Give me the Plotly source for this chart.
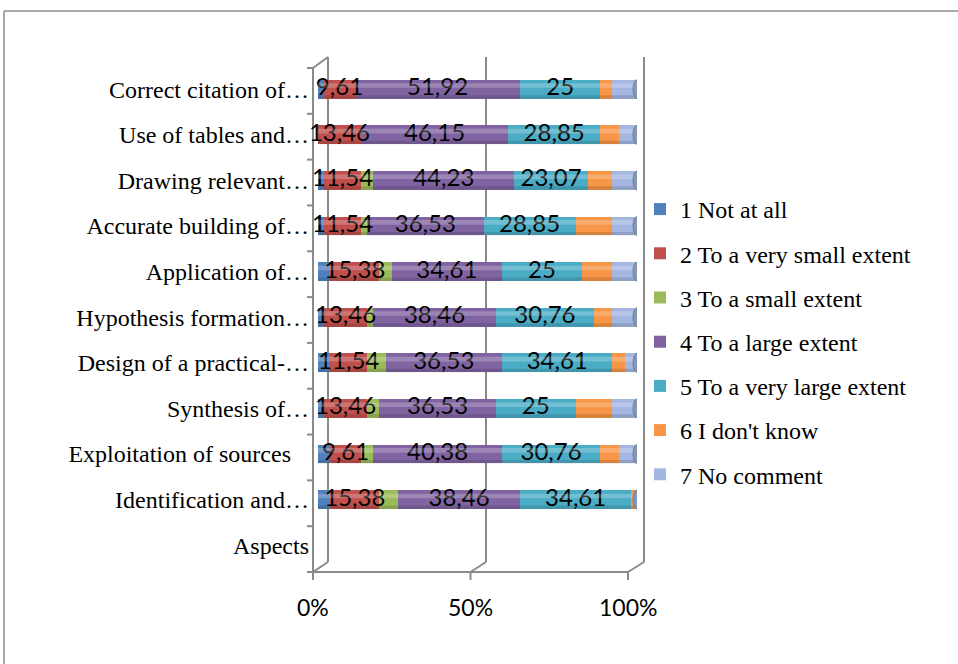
import plotly.graph_objects as go

# ---- data -------------------------------------------------------------
aspects = [
    "Aspects",
    "Identification and…",
    "Exploitation of sources\u00a0\u00a0\u00a0",
    "Synthesis of…",
    "Design of a practical-…",
    "Hypothesis formation…",
    "Application of…",
    "Accurate building of…",
    "Drawing relevant…",
    "Use of tables and…",
    "Correct citation of…",
]

series_names = [
    "1 Not at all",
    "2 To a very small extent",
    "3 To a small extent",
    "4 To a large extent",
    "5 To a very large extent",
    "6 I don't know",
    "7 No comment",
]

not_at_all       = [None, 3.85, 3.85, 1.92, 3.85, 1.92, 3.85, 1.92, 1.92, 0, 1.92]
very_small       = [None, 15.38, 9.61, 13.46, 11.54, 13.46, 15.38, 11.54, 11.54, 13.46, 9.61]
small            = [None, 5.77, 3.85, 3.85, 5.77, 1.92, 3.85, 1.92, 3.85, 0, 0]
large            = [None, 38.46, 40.38, 36.53, 36.53, 38.46, 34.61, 36.53, 44.23, 46.15, 51.92]
very_large       = [None, 34.61, 30.76, 25, 34.61, 30.76, 25, 28.85, 23.07, 28.85, 25]
dont_know        = [None, 1.92, 5.77, 11.54, 3.85, 5.77, 9.61, 11.54, 7.69, 5.77, 3.85]
no_comment       = [None, 0, 5.77, 7.69, 3.85, 7.69, 7.69, 7.69, 7.69, 5.77, 7.69]

series_values = [not_at_all, very_small, small, large, very_large, dont_know, no_comment]
labelled = [False, True, False, True, True, False, False]

x_ticks = [0, 50, 100]
x_tick_text = ["0%", "50%", "100%"]

colors = ["#4F81BD", "#C0504D", "#9BBB59", "#8064A2", "#4BACC6", "#F79646", "#A4B7E1"]

# ---- geometry of the plotting box (pixels) ----------------------------
W, H = 958, 664
PL, PR, PT, PB = 318, 637, 64, 568          # bar area
FRONT_L, FRONT_R, FRONT_Y = 313, 628, 572   # front floor edge
BACK_L, BACK_R, BACK_T, BACK_B = 328, 644, 57, 562  # back wall
WALL_TOP = 68


def px(x):
    return (x - PL) / (PR - PL)


def py(y):
    return (PB - y) / (PB - PT)


def fmt(v):
    if v is None:
        return ""
    if float(v).is_integer():
        return str(int(v))
    return f"{v:.2f}".replace(".", ",")


fig = go.Figure()

for name, vals, col in zip(series_names, series_values, colors):
    fig.add_trace(go.Bar(
        y=aspects,
        x=vals,
        name=name,
        orientation="h",
        marker=dict(color=col, line=dict(width=0)),
        textposition="none",
        legendgroup=name,
        hoverinfo="name+x",
    ))

# data labels centred on their stacked segments (drawn unclipped)
running = [0.0] * len(aspects)
lab_x, lab_y, lab_t = [], [], []
for vals, lab in zip(series_values, labelled):
    for i, v in enumerate(vals):
        if v is None:
            continue
        if lab:
            lab_x.append(running[i] + v / 2)
            lab_y.append(aspects[i])
            lab_t.append(fmt(v))
        running[i] += v

fig.add_trace(go.Scatter(
    x=lab_x, y=lab_y, text=lab_t, mode="text",
    textposition="middle center",
    textfont=dict(family="Lato", size=24, color="#000000"),
    showlegend=False, hoverinfo="skip", cliponaxis=False,
))

grey = "#8A8A8A"


def line(x0, y0, x1, y1, width=2, color=grey):
    fig.add_shape(type="line", xref="paper", yref="paper",
                  x0=px(x0), y0=py(y0), x1=px(x1), y1=py(y1),
                  line=dict(color=color, width=width), layer="below")


# outer chart border
line(4, 11, W + 5, 11, width=1.5, color="#8C8C8C")
line(4, 11, 4, H + 5, width=1.5, color="#8C8C8C")

# left wall with category ticks
line(FRONT_L, WALL_TOP, FRONT_L, FRONT_Y)
line(BACK_L, BACK_T, BACK_L, BACK_B)
line(FRONT_L, WALL_TOP, BACK_L, BACK_T)
n_cat = len(aspects)
band = (FRONT_Y - WALL_TOP) / n_cat
for k in range(n_cat + 1):
    yk = WALL_TOP + k * band
    line(FRONT_L - 6, yk, FRONT_L, yk)

# floor edge, back-wall gridlines and percent tick labels
line(FRONT_L, FRONT_Y, FRONT_R, FRONT_Y)
annotations = []
for t, txt in zip(x_ticks, x_tick_text):
    xf = FRONT_L + t / 100 * (FRONT_R - FRONT_L)
    xb = BACK_L + t / 100 * (BACK_R - BACK_L)
    line(xb, BACK_T, xb, BACK_B)
    line(xf, FRONT_Y, xb, BACK_B)
    line(xf, FRONT_Y, xf, FRONT_Y + 8)
    annotations.append(dict(xref="paper", yref="paper", x=px(xf), y=py(607),
                            text=txt, showarrow=False, xanchor="center", yanchor="middle",
                            font=dict(family="Lato", size=23, color="#000000")))

# cylinder look: highlight, shadow and end cap on each filled row
half = 0.207
for i, v in enumerate(large):
    if v is None:
        continue
    fig.add_shape(type="rect", xref="x", yref="y", x0=0, x1=100,
                  y0=i + 0.03, y1=i + 0.13, fillcolor="rgba(255,255,255,0.22)",
                  line=dict(width=0), layer="above")
    fig.add_shape(type="rect", xref="x", yref="y", x0=0, x1=100,
                  y0=i - half, y1=i - 0.13, fillcolor="rgba(0,0,0,0.13)",
                  line=dict(width=0), layer="above")
    fig.add_shape(type="circle", xref="x", yref="y", xsizemode="pixel",
                  xanchor=100, x0=-4, x1=4, y0=i - half, y1=i + half,
                  fillcolor="#8497BA", line=dict(color="#6F7F9C", width=1),
                  layer="above")

fig.update_layout(
    width=W, height=H,
    margin=dict(l=PL, r=W - PR, t=PT, b=H - PB, pad=0),
    barmode="stack",
    barnorm="percent",
    bargap=0.585,
    plot_bgcolor="white",
    paper_bgcolor="white",
    showlegend=True,
    legend=dict(
        x=px(640), y=py(342), xanchor="left", yanchor="middle",
        traceorder="grouped", tracegroupgap=10,
        font=dict(family="Liberation Serif", size=24, color="#000000"),
        bgcolor="rgba(0,0,0,0)", borderwidth=0,
    ),
    xaxis=dict(range=[0, 100], showgrid=False, zeroline=False,
               showticklabels=False, ticks="", showline=False, fixedrange=True),
    yaxis=dict(type="category", showgrid=False, zeroline=False, showline=False,
               ticks="", ticklabelstandoff=8,
               tickfont=dict(family="Liberation Serif", size=24, color="#000000"),
               automargin=False, fixedrange=True),
    annotations=annotations,
    font=dict(family="Liberation Serif"),
)

fig.write_html("out.html")
